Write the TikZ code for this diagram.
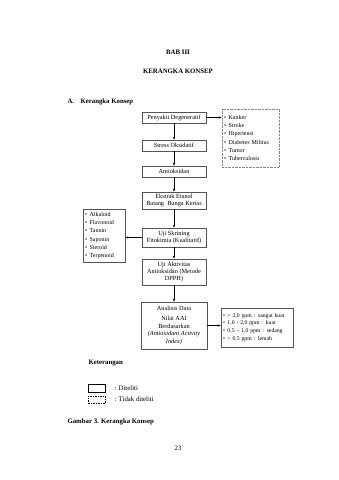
\documentclass[tikz,border=0pt]{standalone}
\usepackage{fontspec}
\setmainfont{Liberation Serif}
\usetikzlibrary{arrows.meta}

\begin{document}
\begin{tikzpicture}[x=1pt, y=-1pt, >={Stealth[length=3pt, width=2.4pt]}]

\definecolor{framecolor}{RGB}{85, 85, 85}
\definecolor{dotcolor}{RGB}{135, 135, 135}

\tikzset{
  mainbox/.style={draw=framecolor, line width=0.7pt, minimum width=64pt, inner sep=0.5pt,
    align=center, font=\fontsize{6.3}{7.3}\selectfont},
  listbox/.style={draw=framecolor, line width=0.7pt, inner ysep=0pt, inner xsep=2pt,
    align=left, font=\fontsize{6}{8.2}\selectfont},
  dotbox/.style={listbox, draw=dotcolor, dash pattern=on 0.6pt off 0.8pt},
  heading/.style={font=\fontsize{6.8}{8}\selectfont\bfseries},
  plain/.style={font=\fontsize{6.8}{8}\selectfont},
  link/.style={->, line width=0.5pt, black}
}

\useasboundingbox (0, 0) rectangle (339, 480);

% titles
\node[heading] (bab) at (178, 52) {BAB III};
\node[heading] (judul) at (178, 71) {KERANGKA KONSEP};
\node[heading, anchor=west] (subbab) at (64, 102) {A.\hspace{6.4pt}Kerangka Konsep};

% main column
\node[mainbox, minimum height=11pt] (penyakit) at (174, 117.5) {Penyakit Degeneratif};
\node[mainbox, minimum height=11pt] (stress) at (174, 145.5) {Stress Oksidatif};
\node[mainbox, minimum height=11pt] (antiok) at (174, 171.5) {Antioksidan};
\node[mainbox, minimum height=17pt] (ekstrak) at (174, 200.5) {Ekstrak Etanol\\Batang\ \ Bunga Kertas};
\node[mainbox, minimum height=19pt] (skrining) at (174, 237.5) {Uji Skrining\\Fitokimia (Kualitatif)};
\node[mainbox, minimum height=26pt] (aktivitas) at (174, 272) {Uji Aktivitas\\Antioksidan (Metode\\DPPH)};
\node[mainbox, minimum height=47pt, minimum width=66pt, font=\fontsize{6.3}{7.8}\selectfont] (analisis) at (174, 325.5)
  {Analisis Data\\[2.2pt]Nilai AAI\\Berdasarkan\\\textit{(Antioxidant Activity}\\\textit{Index)}};

% side lists
\node[dotbox, text width=53pt, minimum height=58pt] (penyakitlist) at (250.5, 138)
  {\textbullet\hspace{2.5pt}Kanker\\\textbullet\hspace{2.5pt}Stroke\\\textbullet\hspace{2.5pt}Hipertensi\\
   \textbullet\hspace{2.5pt}Diabetes Militus\\\textbullet\hspace{2.5pt}Tumor\\\textbullet\hspace{2.5pt}Tuberculosis};
\node[listbox, text width=38pt, minimum height=53pt] (senyawalist) at (104, 235.5)
  {\textbullet\hspace{2.5pt}Alkaloid\\\textbullet\hspace{2.5pt}Flavonoid\\\textbullet\hspace{2.5pt}Tannin\\
   \textbullet\hspace{2.5pt}Saponin\\\textbullet\hspace{2.5pt}Steroid\\\textbullet\hspace{2.5pt}Terpenoid};
\node[listbox, text width=68pt, minimum height=39pt, font=\fontsize{5.7}{7.9}\selectfont] (aailist) at (257, 327.5)
  {\textbullet\hspace{2.5pt}> 2,0 ppm : sangat kuat\\\textbullet\hspace{2.5pt}1,0 - 2,0 ppm : kuat\\
   \textbullet\hspace{2.5pt}0,5 – 1,0 ppm : sedang\\\textbullet\hspace{2.5pt}< 0,5 ppm : lemah};

% connectors
\draw[link] (penyakit) -- (stress);
\draw[link] (stress) -- (antiok);
\draw[link] (antiok) -- (ekstrak);
\draw[link] (ekstrak) -- (skrining);
\draw[link] (skrining) -- (aktivitas);
\draw[link] (aktivitas) -- (analisis);
\draw[link] (penyakit.east) -- (penyakit.east -| penyakitlist.west);
\draw[link] (skrining.west) -- (skrining.west -| senyawalist.east);
\draw[link] (analisis.east) -- (analisis.east -| aailist.west);

% legend
\node[heading, anchor=west] (keterangan) at (85, 363) {Keterangan};
\node[draw=black, line width=0.8pt, minimum width=17pt, minimum height=8pt, inner sep=0pt] (diteliti) at (96.5, 388) {};
\node[draw=black, line width=0.6pt, dash pattern=on 1.5pt off 1pt, minimum width=17pt, minimum height=7pt, inner sep=0pt] (tidak) at (96.5, 399.5) {};
\node[plain, anchor=west] (diteliti-lbl) at (111, 388) {: Diteliti};
\node[plain, anchor=west] (tidak-lbl) at (111, 399.5) {: Tidak diteliti};

% caption and page
\node[heading, anchor=west] (gambar) at (64, 422) {Gambar 3. Kerangka Konsep};
\node[plain] (halaman) at (178, 448) {23};

\end{tikzpicture}
\end{document}
